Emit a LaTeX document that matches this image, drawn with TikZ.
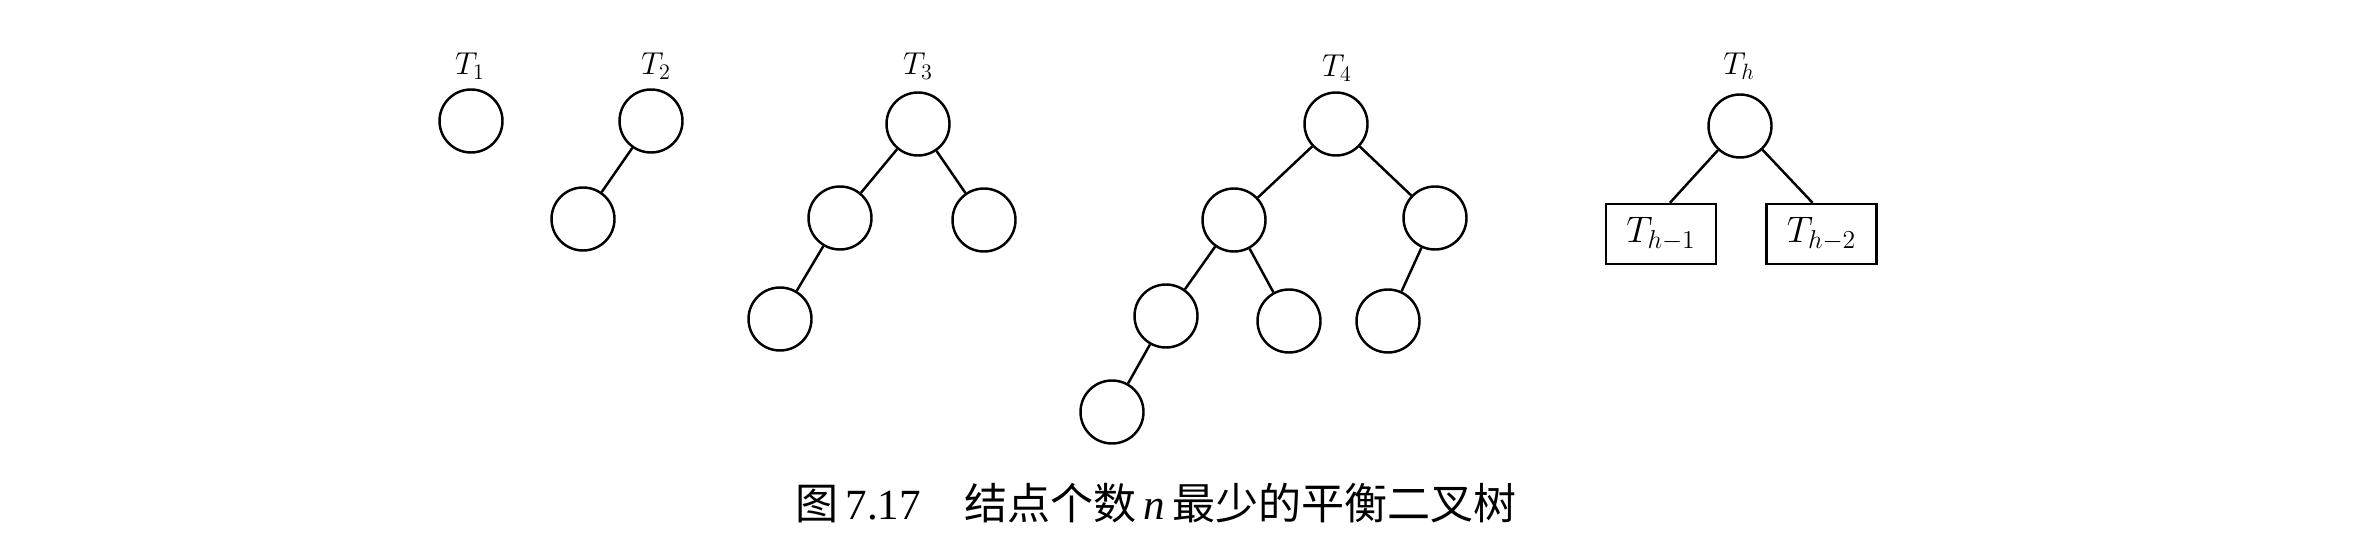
\RequirePackage{fix-cm}
\documentclass[tikz,border=0pt]{standalone}
\usepackage{fontspec}
\setmainfont{Liberation Serif}
\newfontfamily\cjk{Noto Sans CJK SC}
\usepackage{amsmath}
\usepackage{tikz}
\tikzset{
    treenode/.style={circle, draw, line width=1.4pt, minimum size=1.26cm, inner sep=0pt},
    subtree/.style={rectangle, draw, line width=1.4pt, minimum width=2.2cm, minimum height=1.2cm, inner sep=0pt, font=\fontsize{21}{25}\selectfont},
    treelabel/.style={inner sep=0pt, font=\fontsize{18}{22}\selectfont},
    edge/.style={line width=1.4pt},
}

\begin{document}
\begin{tikzpicture}
\useasboundingbox (0,0) rectangle (47.08,10.76);
% T_1
\node[treenode] (a0) at (9.42,8.34) {};
\node[treelabel] (ta) at (9.40,9.44) {$T_1$};
% T_2
\node[treenode] (b0) at (13.02,8.34) {};
\node[treenode] (b1) at (11.66,6.38) {};
\node[treelabel] (tb) at (13.12,9.44) {$T_2$};
\draw[edge] (b0)--(b1);
% T_3
\node[treenode] (c0) at (18.36,8.28) {};
\node[treenode] (c1) at (16.80,6.40) {};
\node[treenode] (c2) at (19.68,6.36) {};
\node[treenode] (c3) at (15.60,4.38) {};
\node[treelabel] (tc) at (18.36,9.44) {$T_3$};
\draw[edge] (c0)--(c1);
\draw[edge] (c0)--(c2);
\draw[edge] (c1)--(c3);
% T_4
\node[treenode] (d0) at (26.72,8.28) {};
\node[treenode] (d1) at (24.68,6.36) {};
\node[treenode] (d2) at (28.70,6.40) {};
\node[treenode] (d3) at (23.32,4.44) {};
\node[treenode] (d4) at (25.78,4.34) {};
\node[treenode] (d5) at (27.76,4.34) {};
\node[treenode] (d6) at (22.24,2.52) {};
\node[treelabel] (td) at (26.74,9.40) {$T_4$};
\draw[edge] (d0)--(d1);
\draw[edge] (d0)--(d2);
\draw[edge] (d1)--(d3);
\draw[edge] (d1)--(d4);
\draw[edge] (d2)--(d5);
\draw[edge] (d3)--(d6);
% T_h
\node[treenode] (h0) at (34.80,8.24) {};
\node[subtree] (h1) at (33.22,6.08) {$T_{h-1}$};
\node[subtree] (h2) at (36.43,6.08) {$T_{h-2}$};
\node[treelabel] (th) at (34.78,9.44) {$T_h$};
\draw[edge] (h0)--(h1.74);
\draw[edge] (h0)--(h2.106);

\node (cap) at (23.12,0.70) {\fontsize{24.5}{28}\selectfont{\cjk 图}\,7.17\quad{\cjk 结点个数}\,\textit{n}\,{\cjk 最少的平衡二叉树}};
\end{tikzpicture}
\end{document}
